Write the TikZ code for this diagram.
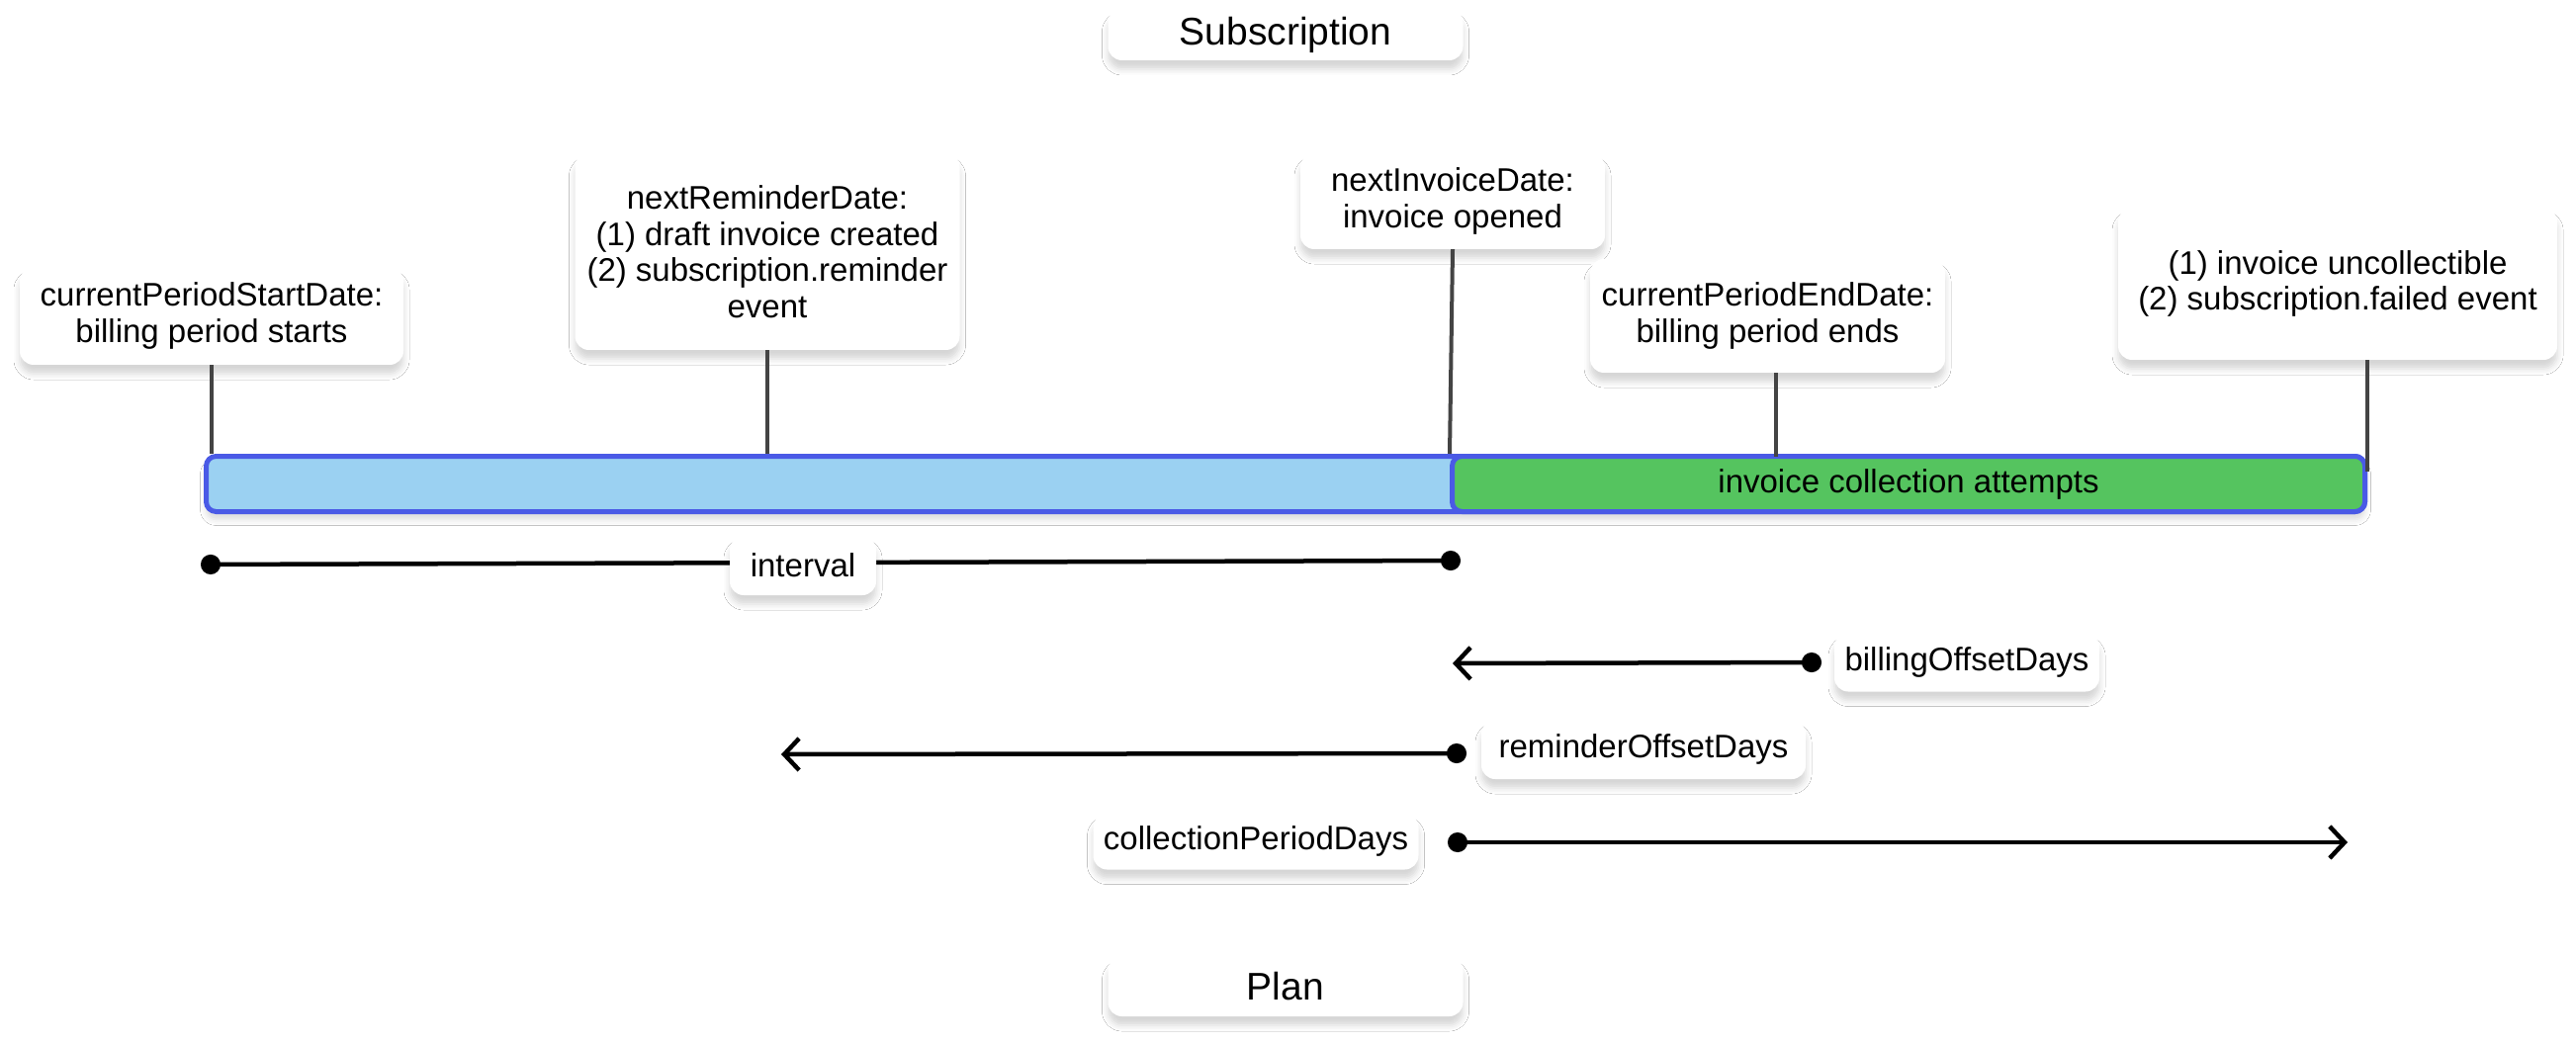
\documentclass[tikz,border=0pt]{standalone}
\usepackage{fontspec}
\setmainfont{Liberation Sans}
\usetikzlibrary{arrows.meta,shadows.blur}
\definecolor{barblue}{HTML}{9BD1F2}
\definecolor{bargreen}{HTML}{55C45F}
\definecolor{barborder}{HTML}{4A5AE6}
\definecolor{conn}{HTML}{444444}
\tikzset{dotend/.tip={Circle[length=20pt]}, barbend/.tip={Straight Barb[length=15pt, width=32pt]}}
\begin{document}
\begin{tikzpicture}[x=1pt,y=-1pt,
  card/.style={draw=none, fill=white, rounded corners=14pt, inner sep=0pt, align=center,
    font=\fontsize{33}{36.5}\selectfont,
    blur shadow={shadow xshift=0pt, shadow yshift=-9pt, shadow blur radius=6pt, shadow opacity=16}},
  titlecard/.style={card, font=\fontsize{39}{44}\selectfont},
  tickline/.style={draw=conn, line width=4pt},
  meas/.style={draw=black, line width=4.5pt}]
\useasboundingbox (0,0) rectangle (2605,1056);
\fill[white] (0,0) rectangle (2605,1056);

% titles
\node[titlecard, minimum width=359pt, minimum height=52pt] (sub) at (1300,35) {Subscription};
\node[titlecard, minimum width=359pt, minimum height=60pt] (plan) at (1300,998) {Plan};

% bar
\node[draw=barborder, fill=barblue, line width=5pt, rounded corners=10pt, inner sep=0pt,
  minimum width=2183pt, minimum height=56pt,
  blur shadow={shadow xshift=0pt, shadow yshift=-8pt, shadow blur radius=6pt, shadow opacity=14}]
  (bar) at (1300,489.5) {};
\node[draw=barborder, fill=bargreen, line width=5pt, rounded corners=10pt, inner sep=0pt,
  minimum width=923pt, minimum height=56pt, font=\fontsize{33}{36.5}\selectfont]
  (green) at (1930,489.5) {invoice collection attempts};

% event cards
\node[card, minimum width=388pt, minimum height=99pt] (start) at (214,319.5)
  {currentPeriodStartDate:\\billing period starts};
\node[card, minimum width=389pt, minimum height=199pt] (rem) at (776,254.5)
  {nextReminderDate:\\(1) draft invoice created\\(2) subscription.reminder\\event};
\node[card, minimum width=308pt, minimum height=97pt] (inv) at (1469,203.5)
  {nextInvoiceDate:\\invoice opened};
\node[card, minimum width=359pt, minimum height=115pt] (end) at (1787.5,319.5)
  {currentPeriodEndDate:\\billing period ends};
\node[card, minimum width=444pt, minimum height=154pt] (fail) at (2364,287)
  {(1) invoice uncollectible\\(2) subscription.failed event};

% ticks
\coordinate (ee) at (1796,461.5);
\coordinate (fe) at (2394,477);
\draw[tickline] (start.south) -- (start.south |- bar.north);
\draw[tickline] (rem.south) -- (rem.south |- bar.north);
\draw[tickline] (inv.south) -- (green.north west);
\draw[tickline] (ee |- end.south) -- (ee);
\draw[tickline] (fe |- fail.south) -- (fe);

% measurements
\coordinate (i1) at (203,571);
\coordinate (i2) at (1477,567);
\coordinate (b1) at (1842,670);
\coordinate (b2) at (1469,671);
\coordinate (r1) at (1483,762);
\coordinate (r2) at (790,763);
\coordinate (c1) at (1464,852);
\coordinate (c2) at (2374,852);
\draw[meas, dotend-dotend] (i1) -- (i2);
\draw[meas, dotend-barbend] (b1) -- (b2);
\draw[meas, dotend-barbend] (r1) -- (r2);
\draw[meas, dotend-barbend] (c1) -- (c2);

\node[card, minimum width=148pt, minimum height=60pt] (intv) at (812,572) {interval};
\node[card, minimum width=268pt, minimum height=59pt] (bill) at (1989,670) {billingOffsetDays};
\node[card, minimum width=328pt, minimum height=60pt] (remo) at (1662,758) {reminderOffsetDays};
\node[card, minimum width=329pt, minimum height=57pt] (coll) at (1270,851) {collectionPeriodDays};
\end{tikzpicture}
\end{document}
